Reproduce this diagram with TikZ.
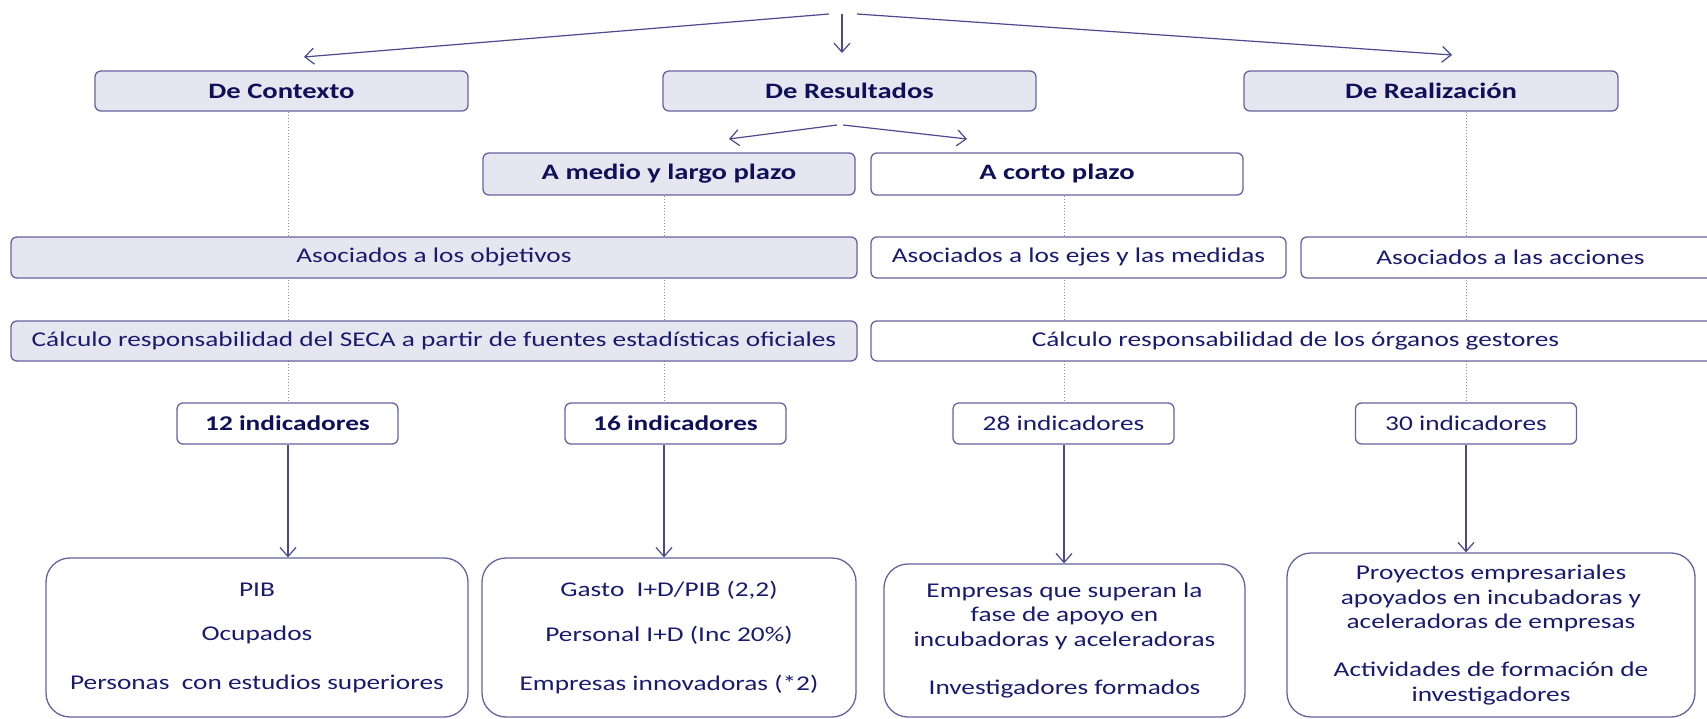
\documentclass[tikz,border=0pt]{standalone}
\usepackage{fontspec}
\setmainfont{Carlito}[FakeStretch=1.3]
\usetikzlibrary{arrows.meta,backgrounds,calc}
\definecolor{txt}{RGB}{26,26,110}
\definecolor{txtb}{RGB}{16,16,90}
\definecolor{bord}{RGB}{100,100,160}
\definecolor{lav}{RGB}{230,230,240}
\definecolor{arr}{RGB}{74,74,140}
\definecolor{dotc}{RGB}{140,140,175}
\begin{document}
\begin{tikzpicture}[x=1pt,y=-1pt,
  rbox/.style={draw=bord, line width=1.3pt, rounded corners=6pt, inner sep=0pt, text=txt,
    font=\fontsize{21}{24.5}\selectfont, fill=white},
  lavbox/.style={rbox, fill=lav},
  head/.style={font=\fontsize{22}{26}\selectfont\bfseries, text=txtb, minimum height=40pt},
  plain/.style={minimum height=41pt},
  indbox/.style={rbox, minimum width=221pt, minimum height=41pt},
  indbold/.style={indbox, font=\fontsize{21}{24.5}\selectfont\bfseries, text=txtb},
  bigbox/.style={rbox, rounded corners=24pt, align=center},
  conn/.style={draw=arr, line width=1.2pt, -{Straight Barb[length=9pt,width=16pt,line width=1.2pt]}},
  dotl/.style={draw=dotc, line width=0.9pt, dash pattern=on 1.5pt off 1.5pt}]

\path[use as bounding box] (0,0) rectangle (1707,719);
\clip (0,0) rectangle (1707,719);

% level 1
\node[lavbox, head, minimum width=373pt] (ctx) at (281.5,91) {De Contexto};
\node[lavbox, head, minimum width=373pt] (res) at (849.5,91) {De Resultados};
\node[lavbox, head, minimum width=374pt] (rea) at (1431,91) {De Realización};

% level 2
\node[lavbox, head, minimum width=372pt, minimum height=42pt] (medio) at (669,174) {A medio y largo plazo};
\node[rbox, head, minimum width=372pt, minimum height=42pt] (corto) at (1057,174) {A corto plazo};

% level 3
\node[lavbox, plain, minimum width=846pt] (asobj) at (434,257.5) {Asociados a los objetivos};
\node[rbox, plain, minimum width=415pt] (asejes) at (1078.5,257.5) {Asociados a los ejes y las medidas};
\node[rbox, plain, minimum width=419pt] (asacc) at (1510.5,257.5) {Asociados a las acciones};

% level 4
\node[lavbox, plain, minimum width=846pt, minimum height=40pt] (calc1) at (434,341) {Cálculo responsabilidad del SECA a partir de fuentes estadísticas oficiales};
\node[rbox, plain, minimum width=849pt, minimum height=40pt] (calc2) at (1295.5,341) {Cálculo responsabilidad de los órganos gestores};

% indicators
\node[indbold] (i12) at (287.5,423.5) {12 indicadores};
\node[indbold] (i16) at (675.5,423.5) {16 indicadores};
\node[indbox] (i28) at (1063.5,423.5) {28 indicadores};
\node[indbox] (i30) at (1466,423.5) {30 indicadores};

% bottom boxes
\node[bigbox, minimum width=422pt, minimum height=159pt] (b1) at (257,637.5)
  {PIB\\[20pt]Ocupados\\[24pt]Personas\ \ con estudios superiores};
\node[bigbox, minimum width=374pt, minimum height=159pt] (b2) at (669,637.5)
  {Gasto\ \ I+D/PIB (2,2)\\[21pt]Personal I+D (Inc 20\%)\\[24pt]Empresas innovadoras (*2)};
\node[bigbox, minimum width=361pt, minimum height=153pt] (b3) at (1064.5,640.5)
  {Empresas que superan la\\fase de apoyo en\\incubadoras y aceleradoras\\[23.5pt]Investigadores formados};
\node[bigbox, minimum width=408pt, minimum height=164pt] (b4) at (1491,635)
  {Proyectos empresariales\\apoyados en incubadoras y\\aceleradoras de empresas\\[23.5pt]Actividades de formación de\\investigadores};

% coordinates
\coordinate (apL) at (829,14);
\coordinate (apC) at (842,14);
\coordinate (apR) at (857,14);
\coordinate (tipL) at (304,57);
\coordinate (tipC) at (842,53);
\coordinate (tipR) at (1452,55);
\coordinate (sL) at (837,125);
\coordinate (sR) at (843,125);
\coordinate (tL) at (729,139);
\coordinate (tR) at (967,139);
\coordinate (cA) at (288,0);
\coordinate (cB) at (664,0);
\coordinate (cC) at (1064,0);
\coordinate (cD) at (1466,0);

% top arrows
\draw[conn] (apL) -- (tipL);
\draw[conn] (apC) -- (tipC);
\draw[conn] (apR) -- (tipR);
\draw[conn] (sL) -- (tL);
\draw[conn] (sR) -- (tR);

% dotted lines behind boxes
\begin{pgfonlayer}{background}
\draw[dotl] (ctx.south -| cA) -- (i12.north -| cA);
\draw[dotl] (medio.south -| cB) -- (i16.north -| cB);
\draw[dotl] (corto.south -| cC) -- (i28.north -| cC);
\draw[dotl] (rea.south -| cD) -- (i30.north -| cD);
\end{pgfonlayer}

% arrows to bottom boxes
\draw[conn] (i12.south -| cA) -- (b1.north -| cA);
\draw[conn] (i16.south -| cB) -- (b2.north -| cB);
\draw[conn] (i28.south -| cC) -- (b3.north -| cC);
\draw[conn] (i30.south -| cD) -- (b4.north -| cD);
\end{tikzpicture}
\end{document}
